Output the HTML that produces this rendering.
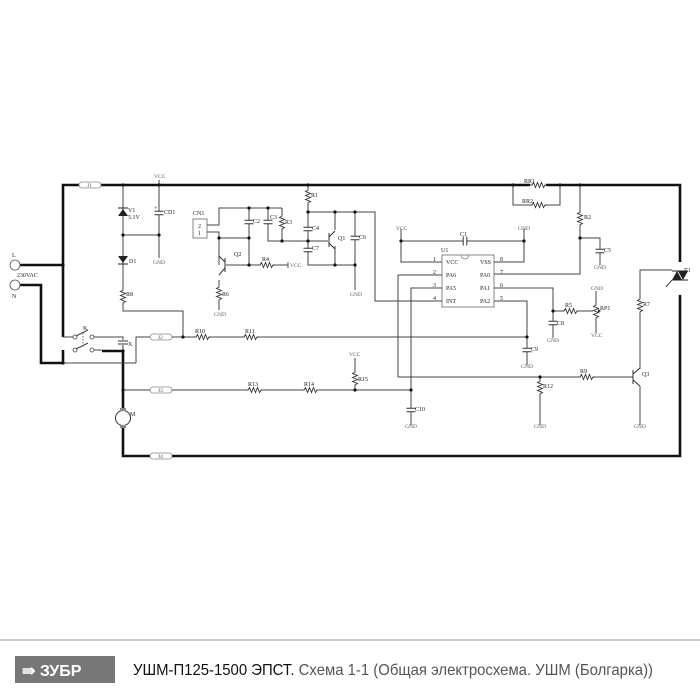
<!DOCTYPE html>
<html><head><meta charset="utf-8"><style>
html,body{margin:0;padding:0;background:#fff;width:700px;height:700px;overflow:hidden}
svg{display:block}
.w{stroke:#444;stroke-width:1;fill:none}
.t{stroke:#111;stroke-width:2.6;fill:none}
text{font-family:"Liberation Serif",serif;font-size:6px;fill:#222}
.g{font-size:5.5px;fill:#555}
</style></head><body>
<svg width="700" height="700" viewBox="0 0 700 700" xmlns="http://www.w3.org/2000/svg">
<defs>
<g id="rh"><rect x="-8" y="-3" width="16" height="6" fill="#fff"/><path d="M-8,0h2l1.5,-2.5l2,5l2,-5l2,5l2,-5l2,5l1.5,-2.5h2" stroke="#333" stroke-width="0.9" fill="none"/></g>
<g id="rv"><rect x="-3" y="-8" width="6" height="16" fill="#fff"/><path d="M0,-8v2l-2.5,1.5l5,2l-5,2l5,2l-5,2l5,2l-2.5,1.5v2" stroke="#333" stroke-width="0.9" fill="none"/></g>
<g id="cv"><rect x="-5" y="-2" width="10" height="4" fill="#fff"/><path d="M-4.5,-1.8h9M-4.5,1.8h9" stroke="#333" stroke-width="1"/></g>
<g id="ch"><rect x="-2" y="-5" width="4" height="10" fill="#fff"/><path d="M-1.8,-4.5v9M1.8,-4.5v9" stroke="#333" stroke-width="1"/></g>
<g id="jb"><rect x="-11" y="-3" width="22" height="6" rx="3" fill="#fff" stroke="#888" stroke-width="0.8"/></g>
</defs>

<!-- thick power wiring -->
<path class="t" d="M63,337V185H680V262M680,295V456H123V410"/>
<path class="t" d="M20,265H63"/>
<path class="t" d="M20,285H41V363H63V350"/>
<path class="t" d="M102,351H123V410"/>

<!-- J labels -->
<use href="#jb" x="90" y="185"/><text x="87" y="187" class="g">J1</text>
<use href="#jb" x="161" y="337"/><text x="158" y="339" class="g">J2</text>
<use href="#jb" x="161" y="390"/><text x="158" y="392" class="g">J3</text>
<use href="#jb" x="161" y="456"/><text x="158" y="458" class="g">J4</text>

<!-- L N -->
<circle cx="15" cy="265" r="5" fill="#fff" stroke="#555" stroke-width="0.8"/>
<circle cx="15" cy="285" r="5" fill="#fff" stroke="#555" stroke-width="0.8"/>
<text x="12" y="257">L</text><text x="17" y="277">230VAC</text><text x="12" y="298">N</text>

<!-- switch K -->
<path class="w" d="M63,337H73M94,337H121M94,350H102M136,363H63"/>
<path class="w" d="M136,363V337H150M172,337H527"/>
<circle cx="75" cy="337" r="2" fill="#fff" stroke="#444" stroke-width="0.8"/>
<circle cx="92" cy="337" r="2" fill="#fff" stroke="#444" stroke-width="0.8"/>
<circle cx="75" cy="350" r="2" fill="#fff" stroke="#444" stroke-width="0.8"/>
<circle cx="92" cy="350" r="2" fill="#fff" stroke="#444" stroke-width="0.8"/>
<path class="w" d="M76,336L88,330M76,349L88,343"/><path d="M83,333V347" stroke="#444" stroke-width="0.8" stroke-dasharray="1.5,1.5"/>
<text x="83" y="330">K</text>
<path class="w" d="M121,337H123V340M123,345V350"/>
<path d="M118,341h10M118,344h10" stroke="#333"/><text x="128" y="346">X</text>

<!-- VCC column -->
<path class="w" d="M123,185V311H183V337M159,185V235H123M159,235V258"/>
<path d="M118,216h10l-5,-7z" fill="#222"/><path d="M118,208h10" stroke="#222"/>
<text x="128" y="212">V1</text><text x="128" y="219">5.1V</text>
<path d="M118,256h10l-5,7z" fill="#222"/><path d="M118,264h10" stroke="#222"/>
<text x="129" y="263">D1</text>
<use href="#rv" x="123" y="296"/><text x="126" y="296">R8</text>
<use href="#cv" x="159" y="213"/><text x="164" y="214">CD1</text><text x="154" y="210">+</text>
<text x="154" y="178" class="g">VCC</text><path class="w" d="M159,180V185"/>
<text x="153" y="264" class="g">GND</text>

<!-- R10 R11 -->
<use href="#rh" x="202" y="337"/><text x="195" y="333">R10</text>
<use href="#rh" x="250" y="337"/><text x="245" y="333">R11</text>
<!-- J3 line -->
<path class="w" d="M123,390H150M172,390H411"/>
<use href="#rh" x="254" y="390"/><text x="248" y="386">R13</text>
<use href="#rh" x="310" y="390"/><text x="304" y="386">R14</text>
<path class="w" d="M355,358V390"/><use href="#rv" x="355" y="378"/><text x="358" y="381">R15</text>
<text x="349" y="356" class="g">VCC</text>

<!-- motor -->
<circle cx="123" cy="418" r="7.5" fill="#fff" stroke="#333" stroke-width="1"/>
<rect x="120" y="408" width="6" height="3" fill="#888"/><rect x="120" y="425" width="6" height="3" fill="#888"/>
<text x="130" y="416">M</text>

<!-- CN1 / Q2 area -->
<rect x="193" y="219" width="14" height="19" fill="#fff" stroke="#666" stroke-width="0.8"/>
<text x="193" y="215">CN1</text><text x="198" y="228">2</text><text x="198" y="235">1</text>
<path class="w" d="M207,225H219V208H282M207,232H219V265M219,238H249V265M249,208V265M268,208V241H308M282,208V241"/>
<path class="w" d="M226,265H288M219,280V310"/>
<use href="#cv" x="249" y="222"/><text x="253" y="223">C2</text>
<use href="#cv" x="268" y="222"/><text x="270" y="219">C3</text>
<use href="#rv" x="282" y="222"/><text x="285" y="224">R3</text>
<path d="M225,258V272M225,262L219,256M225,268L219,275" stroke="#333" stroke-width="1"/>
<text x="234" y="256">Q2</text>
<use href="#rh" x="266" y="265"/><text x="262" y="261">R4</text>
<path d="M288,262V268" stroke="#555"/><text x="290" y="267" class="g">VCC</text>
<use href="#rv" x="219" y="293"/><text x="222" y="296">R6</text>
<text x="214" y="316" class="g">GND</text>

<!-- R1 Q1 -->
<path class="w" d="M308,185V265H355M308,212H375V301H425M335,212V230M335,246V265M355,212V290"/>
<use href="#rv" x="308" y="196"/><text x="311" y="197">R1</text>
<use href="#cv" x="308" y="229"/><text x="312" y="230">C4</text>
<use href="#cv" x="308" y="250"/><text x="312" y="250">C7</text>
<path class="w" d="M308,241H328"/>
<path d="M329,233V247M329,237L335,231M329,243L335,249" stroke="#333" stroke-width="1"/>
<text x="338" y="240">Q1</text>
<use href="#cv" x="355" y="238"/><text x="359" y="239">C6</text>
<text x="350" y="296" class="g">GND</text>

<!-- U1 -->
<rect x="442" y="255" width="52" height="52" fill="#fff" stroke="#666" stroke-width="0.8"/>
<path d="M461,255a4,4 0 0 0 8,0" fill="none" stroke="#888" stroke-width="0.8"/>
<text x="441" y="252">U1</text>
<text x="446" y="264">VCC</text><text x="446" y="277">PA6</text><text x="446" y="290">PA5</text><text x="446" y="303">INT</text>
<text x="480" y="264">VSS</text><text x="480" y="277">PA0</text><text x="480" y="290">PA1</text><text x="480" y="303">PA2</text>
<text x="433" y="261">1</text><text x="433" y="274">2</text><text x="433" y="287">3</text><text x="433" y="300">4</text>
<text x="500" y="261">8</text><text x="500" y="274">7</text><text x="500" y="287">6</text><text x="500" y="300">5</text>
<path class="w" d="M401,229V262H442M524,229V262H494M401,241H524M425,301H442"/>
<use href="#ch" x="465" y="241"/><text x="460" y="236">C1</text>
<text x="396" y="230" class="g">VCC</text><text x="518" y="230" class="g">GND</text>
<!-- PA6 -->
<path class="w" d="M442,275H398V377H633"/>
<use href="#rh" x="586" y="377"/><text x="580" y="373">R9</text>
<path class="w" d="M540,377V425"/><use href="#rv" x="540" y="387"/><text x="543" y="388">R12</text>
<text x="534" y="428" class="g">GND</text>
<!-- PA5 -->
<path class="w" d="M442,288H411V425"/>
<use href="#cv" x="411" y="410"/><text x="415" y="411">C10</text>
<text x="405" y="428" class="g">GND</text>
<!-- PA0 -->
<path class="w" d="M494,274H580V185M580,238H600V265"/>
<use href="#rv" x="580" y="218"/><text x="584" y="219">R2</text>
<use href="#cv" x="600" y="251"/><text x="604" y="252">C5</text>
<text x="594" y="269" class="g">GND</text>
<!-- PA1 -->
<path class="w" d="M494,288H553V338M553,311H596M596,291V333"/>
<use href="#rh" x="570" y="311"/><text x="565" y="307">R5</text>
<use href="#rv" x="596" y="311"/><path d="M601,311l-3,-2v4z" fill="#333"/><text x="600" y="310">RP1</text>
<text x="591" y="290" class="g">GND</text><text x="591" y="337" class="g">VCC</text>
<use href="#cv" x="553" y="323"/><text x="557" y="325">C8</text>
<text x="547" y="342" class="g">GND</text>
<!-- PA2 -->
<path class="w" d="M494,301H527V365"/>
<use href="#cv" x="527" y="350"/><text x="531" y="351">C9</text>
<text x="521" y="368" class="g">GND</text>

<!-- RR1 RR2 -->
<path class="w" d="M513,185V205H560V185"/>
<use href="#rh" x="538" y="185"/><text x="524" y="183">RR1</text>
<use href="#rh" x="538" y="205"/><text x="522" y="203">RR2</text>

<!-- T1 Q3 -->
<path d="M672,271h16M672,280h16" stroke="#222" stroke-width="1"/>
<path d="M672,280l5,-9l5,9zM678,271l5,9l5,-9z" fill="#222"/>
<path class="w" d="M672,280L666,287M640,369V270H672"/>
<text x="684" y="272">T1</text>
<use href="#rv" x="640" y="305"/><text x="643" y="306">R7</text>
<path d="M633,370V384M633,374L640,368M633,380L640,386" stroke="#333" stroke-width="1"/>
<path class="w" d="M640,386V425"/>
<text x="642" y="376">Q3</text>
<text x="634" y="428" class="g">GND</text>

<!-- nodes -->
<g fill="#111">
<circle cx="123" cy="185" r="1.6"/><circle cx="159" cy="185" r="1.6"/><circle cx="308" cy="185" r="1.6"/>
<circle cx="513" cy="185" r="1.6"/><circle cx="560" cy="185" r="1.6"/><circle cx="580" cy="185" r="1.6"/>
<circle cx="63" cy="265" r="1.6"/><circle cx="63" cy="363" r="1.6"/><circle cx="123" cy="235" r="1.6"/><circle cx="159" cy="235" r="1.6"/>
<circle cx="183" cy="337" r="1.6"/><circle cx="123" cy="351" r="1.6"/><circle cx="123" cy="390" r="1.6"/>
<circle cx="219" cy="238" r="1.6"/><circle cx="249" cy="208" r="1.6"/><circle cx="268" cy="208" r="1.6"/><circle cx="249" cy="238" r="1.6"/><circle cx="249" cy="265" r="1.6"/>
<circle cx="282" cy="241" r="1.6"/><circle cx="308" cy="212" r="1.6"/><circle cx="308" cy="241" r="1.6"/>
<circle cx="335" cy="212" r="1.6"/><circle cx="355" cy="212" r="1.6"/><circle cx="335" cy="265" r="1.6"/><circle cx="355" cy="265" r="1.6"/>
<circle cx="355" cy="390" r="1.6"/><circle cx="411" cy="390" r="1.6"/><circle cx="540" cy="377" r="1.6"/>
<circle cx="527" cy="337" r="1.6"/><circle cx="553" cy="311" r="1.6"/><circle cx="580" cy="238" r="1.6"/>
<circle cx="401" cy="241" r="1.6"/><circle cx="524" cy="241" r="1.6"/>
</g>

<!-- footer -->
<line x1="0" y1="640" x2="700" y2="640" stroke="#999" stroke-width="1"/>
<rect x="15" y="656" width="100" height="27" fill="#777"/>
<text x="22" y="676" style="font-family:'Liberation Sans',sans-serif;font-size:16px;font-weight:bold;fill:#fff">⇛ ЗУБР</text>
<text x="133" y="675" textLength="520" lengthAdjust="spacingAndGlyphs" style="font-family:'Liberation Sans',sans-serif;font-size:16px;fill:#555"><tspan style="fill:#111">УШМ-П125-1500 ЭПСТ.</tspan> Схема 1-1 (Общая электросхема. УШМ (Болгарка))</text>
</svg>
</body></html>
